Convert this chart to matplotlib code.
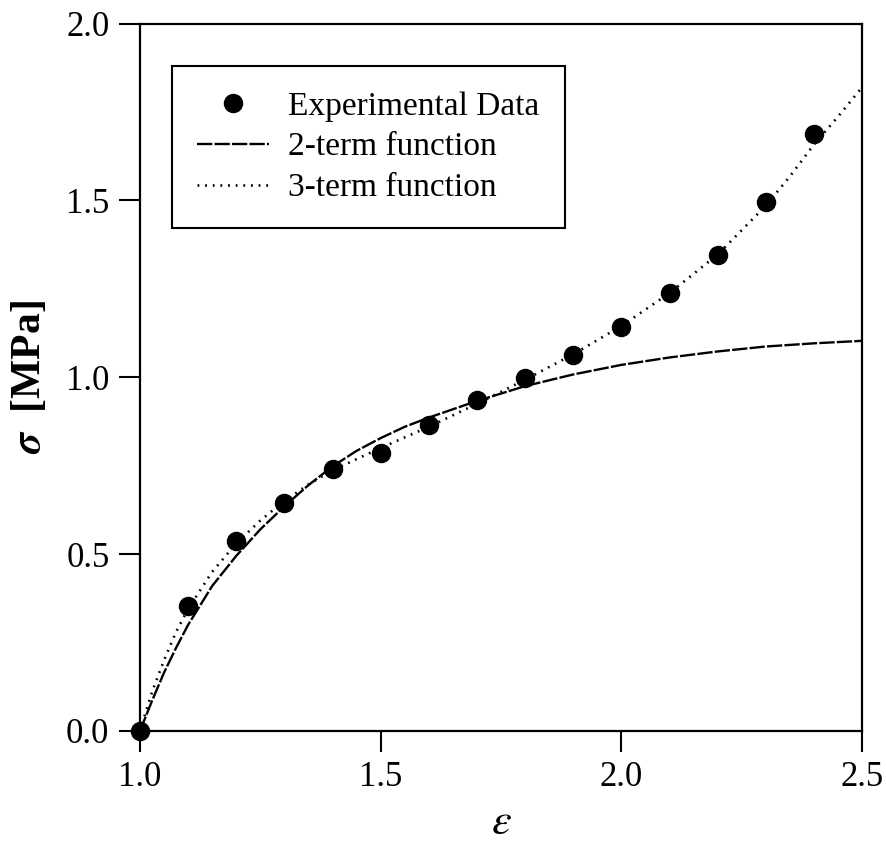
import matplotlib
matplotlib.use("Agg")
import matplotlib.pyplot as plt

plt.rcParams['font.family'] = ['Liberation Serif', 'DejaVu Serif']
plt.rcParams['mathtext.fontset'] = 'stix'
plt.rcParams['lines.scale_dashes'] = False

# Experimental data
exp_eps = [1.0, 1.1, 1.2, 1.3, 1.4, 1.5, 1.6, 1.7, 1.8, 1.9, 2.0, 2.1, 2.2, 2.3, 2.4]
exp_sig = [0.0, 0.353, 0.537, 0.645, 0.740, 0.787, 0.866, 0.935, 0.997, 1.063, 1.143, 1.238, 1.345, 1.497, 1.688]

# 2-term fitted curve
two_eps = [1.0, 1.025, 1.05, 1.075, 1.1, 1.15, 1.2, 1.25, 1.3, 1.35, 1.4, 1.45, 1.5, 1.55, 1.6, 1.7, 1.8, 1.9, 2.0, 2.1, 2.2, 2.3, 2.4, 2.5]
two_sig = [0.0, 0.085, 0.165, 0.235, 0.30, 0.41, 0.495, 0.57, 0.635, 0.695, 0.748, 0.792, 0.828, 0.860, 0.886, 0.933, 0.975, 1.008, 1.035, 1.056, 1.073, 1.087, 1.096, 1.103]

# 3-term fitted curve
three_eps = [1.0, 1.025, 1.05, 1.075, 1.1, 1.15, 1.2, 1.25, 1.3, 1.35, 1.4, 1.5, 1.6, 1.7, 1.8, 1.9, 2.0, 2.1, 2.2, 2.3, 2.35, 2.4, 2.45, 2.5]
three_sig = [0.0, 0.11, 0.20, 0.28, 0.345, 0.45, 0.53, 0.595, 0.650, 0.697, 0.737, 0.800, 0.860, 0.925, 0.993, 1.065, 1.145, 1.238, 1.347, 1.485, 1.568, 1.658, 1.737, 1.820]

x_ticks = [1.0, 1.5, 2.0, 2.5]
y_ticks = [0.0, 0.5, 1.0, 1.5, 2.0]

fig = plt.figure(figsize=(8.86, 8.44), dpi=100)
ax = fig.add_axes([0.158, 0.134, 0.815, 0.838])

ax.plot(two_eps, two_sig, color='black', lw=1.7, dashes=(11, 1.6), label='2-term function')
ax.plot(three_eps, three_sig, color='black', lw=1.9, dashes=(1.3, 4.2), label='3-term function')
ax.plot(exp_eps, exp_sig, 'o', color='black', markersize=13, label='Experimental Data', clip_on=False, zorder=5)

ax.set_xlim(1.0, 2.5)
ax.set_ylim(0.0, 2.0)
ax.set_xticks(x_ticks)
ax.set_yticks(y_ticks)
ax.set_xticklabels([f"{v:.1f}" for v in x_ticks])
ax.set_yticklabels([f"{v:.1f}" for v in y_ticks])
ax.tick_params(direction='out', length=15, width=1.5, labelsize=25, pad=7)
for s in ax.spines.values():
    s.set_linewidth(1.6)

ax.set_xlabel(r'$\varepsilon$', fontsize=32, labelpad=6)
ax.set_ylabel(r'$\boldsymbol{\sigma}$  [MPa]', fontsize=30, fontweight='bold', labelpad=12)

handles, labels = ax.get_legend_handles_labels()
order = [2, 0, 1]
leg = ax.legend([handles[i] for i in order], [labels[i] for i in order],
                loc='upper left', bbox_to_anchor=(0.045, 0.94), fontsize=24,
                frameon=True, fancybox=False, edgecolor='black', framealpha=1,
                handlelength=2.15, borderpad=0.75, labelspacing=0.31, handletextpad=0.58,
                borderaxespad=0)
leg.get_frame().set_linewidth(1.5)

fig.savefig('out.png', dpi=100)
